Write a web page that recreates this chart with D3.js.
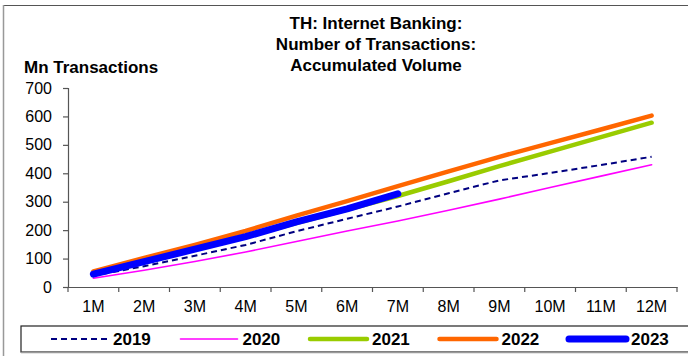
<!DOCTYPE html>
<html lang="en">
<head>
<meta charset="UTF-8">
<title>TH Internet Banking</title>
<script src="https://d3js.org/d3.v7.min.js"></script>
<style>
    body { margin: 0; background: #fff; }
    text { font-family: Arial, "Liberation Sans", sans-serif; }
</style>
</head>
<body>
<svg width="688" height="356" id="chart"></svg>
<script>
    // datos (millones de transacciones, acumulado)
    var months = ["1M", "2M", "3M", "4M", "5M", "6M", "7M", "8M", "9M", "10M", "11M", "12M"];
    var yTicks = [0, 100, 200, 300, 400, 500, 600, 700];
    var v2019 = [40, 73, 110, 148, 196, 240, 283, 330, 375, 401, 429, 458];
    var v2020 = [31, 59, 90, 123, 160, 197, 232, 270, 309, 350, 390, 430];
    var v2021 = [45, 88, 132, 177, 225, 272, 320, 372, 425, 476, 527, 578];
    var v2022 = [55, 102, 148, 197, 251, 302, 355, 407, 458, 506, 554, 603];
    var v2023 = [45, 89, 133, 177, 229, 275, 328];

    var series = [
        { name: "2019", values: v2019, color: "#000080", width: 2, dash: "6,4" },
        { name: "2020", values: v2020, color: "#FF00FF", width: 1.6, dash: null },
        { name: "2021", values: v2021, color: "#99CC00", width: 4.5, dash: null },
        { name: "2022", values: v2022, color: "#FF6600", width: 4.5, dash: null },
        { name: "2023", values: v2023, color: "#0000FF", width: 7, dash: null }
    ];

    var svg = d3.select("#chart");
    var plotLeft = 68, plotRight = 677, plotTop = 88, plotBottom = 287;

    // marco exterior
    svg.append("line").attr("x1", 3).attr("x2", 688).attr("y1", 5.5).attr("y2", 5.5)
        .attr("stroke", "#555").attr("stroke-width", 1.2);
    svg.append("line").attr("x1", 3.5).attr("x2", 3.5).attr("y1", 5).attr("y2", 356)
        .attr("stroke", "#999").attr("stroke-width", 1.5);

    var x = d3.scaleBand().domain(months).range([plotLeft, plotRight]);
    var y = d3.scaleLinear().domain([0, 700]).range([plotBottom, plotTop]);

    // titulo
    var title = ["TH: Internet Banking:", "Number of Transactions:", "Accumulated Volume"];
    svg.append("g").selectAll("text").data(title).join("text")
        .attr("x", 376).attr("y", function (d, i) { return 29 + i * 21; })
        .attr("text-anchor", "middle")
        .attr("font-size", 17).attr("font-weight", "bold")
        .text(function (d) { return d; });

    svg.append("text").attr("x", 24).attr("y", 73)
        .attr("font-size", 17).attr("font-weight", "bold")
        .text("Mn Transactions");

    // ejes
    var yAxis = d3.axisLeft(y).tickValues(yTicks).tickSize(5).tickPadding(11);
    var gy = svg.append("g").attr("transform", "translate(" + plotLeft + ",0)").call(yAxis);
    var xAxis = d3.axisBottom(x).tickSize(0).tickPadding(14);
    var gx = svg.append("g").attr("transform", "translate(0," + plotBottom + ")").call(xAxis);

    // marcas entre categorias
    gx.selectAll(".sep").data(d3.range(months.length + 1)).join("line")
        .attr("class", "sep")
        .attr("x1", function (i) { return plotLeft + i * x.step(); })
        .attr("x2", function (i) { return plotLeft + i * x.step(); })
        .attr("y1", 0).attr("y2", 5);

    [gy, gx].forEach(function (g) {
        g.select(".domain").attr("stroke", "#555").attr("stroke-width", 1.2);
        g.selectAll("line").attr("stroke", "#555").attr("stroke-width", 1.2);
        g.selectAll("text").attr("font-size", 16).attr("fill", "#000")
            .attr("font-family", "Arial, 'Liberation Sans', sans-serif");
    });

    // lineas
    var line = d3.line()
        .x(function (d, i) { return x(months[i]) + x.bandwidth() / 2; })
        .y(function (d) { return y(d); });

    svg.append("g").selectAll("path").data(series).join("path")
        .attr("d", function (s) { return line(s.values); })
        .attr("fill", "none")
        .attr("stroke", function (s) { return s.color; })
        .attr("stroke-width", function (s) { return s.width; })
        .attr("stroke-dasharray", function (s) { return s.dash; })
        .attr("stroke-linecap", function (s) { return s.dash ? "butt" : "round"; })
        .attr("stroke-linejoin", "round");

    // leyenda
    var legend = svg.append("g");
    legend.append("rect").attr("x", 21).attr("y", 326).attr("width", 700).attr("height", 26)
        .attr("fill", "#fff").attr("stroke", "#222").attr("stroke-width", 1.2);
    legend.append("line").attr("x1", 21).attr("x2", 688).attr("y1", 352.5).attr("y2", 352.5)
        .attr("stroke", "#999").attr("stroke-width", 1.5);

    var item = legend.selectAll(".item").data(series).join("g")
        .attr("class", "item")
        .attr("transform", function (d, i) { return "translate(" + (51 + i * 129.5) + ",339)"; });
    item.append("line").attr("x1", 0).attr("x2", 57).attr("y1", 0).attr("y2", 0)
        .attr("stroke", function (s) { return s.color; })
        .attr("stroke-width", function (s) { return s.width; })
        .attr("stroke-dasharray", function (s) { return s.dash; })
        .attr("stroke-linecap", function (s) { return s.dash ? "butt" : "round"; });
    item.append("text").attr("x", 62).attr("y", 6)
        .attr("font-size", 17).attr("font-weight", "bold")
        .text(function (s) { return s.name; });
</script>
</body>
</html>
